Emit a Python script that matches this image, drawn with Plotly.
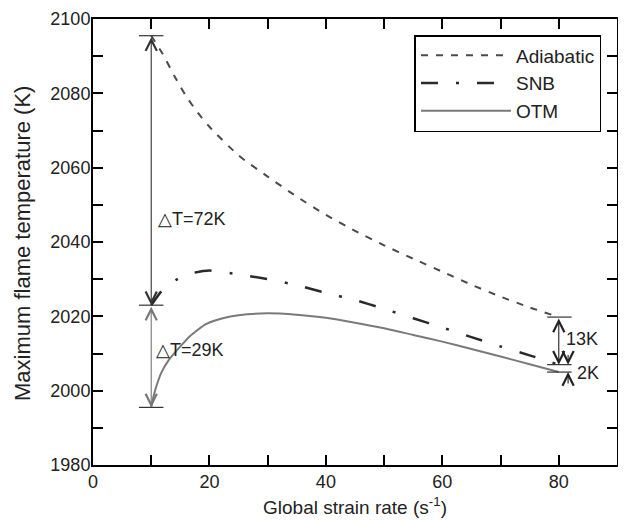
import plotly.graph_objects as go

# ---------------- data ----------------
adiabatic_x = [10, 12, 14, 16, 18, 20, 25, 30, 35, 40, 45, 50, 55, 60, 65, 70, 75, 80]
adiabatic_y = [2095.5, 2090.5, 2084.6, 2079.2, 2074.8, 2071.0, 2063.3, 2057.6, 2052.2,
               2047.3, 2043.0, 2039.1, 2035.5, 2032.0, 2028.5, 2025.3, 2022.4, 2019.8]

snb_x = [10, 12, 14.5, 17, 20, 25, 30, 35, 40, 45, 50, 55, 60, 65, 70, 75, 80]
snb_y = [2023.0, 2027.2, 2030.0, 2031.6, 2032.3, 2031.3, 2030.0, 2028.4, 2026.3,
         2024.4, 2022.0, 2019.5, 2017.0, 2014.4, 2011.9, 2009.5, 2007.0]

otm_x = [10, 10.4, 10.85, 11.7, 13, 15, 16.6, 19.4, 22.3, 25, 30, 35, 40, 45, 50,
         55, 60, 65, 70, 75, 80]
otm_y = [1995.5, 1998.5, 2001.0, 2004.7, 2008.2, 2011.9, 2014.6, 2017.9, 2019.5,
         2020.3, 2020.8, 2020.4, 2019.6, 2018.3, 2016.8, 2015.0, 2013.2, 2011.2,
         2009.2, 2007.1, 2005.0]

series_names = ["Adiabatic", "SNB", "OTM"]
delta_labels = ["\u25b3T=72K", "\u25b3T=29K", "13K", "2K"]
x_title = "Global strain rate (s<sup>-1</sup>)"
y_title = "Maximum flame temperature (K)"

x_ticks = [0, 20, 40, 60, 80]
y_ticks = [1980, 2000, 2020, 2040, 2060, 2080, 2100]

FONT = "Liberation Sans, Arial, sans-serif"

fig = go.Figure()
fig.add_trace(go.Scatter(x=adiabatic_x, y=adiabatic_y, mode="lines", name=series_names[0],
                         line=dict(color="#4a4a4a", width=2, dash="7px,8px", shape="spline", smoothing=0.6)))
fig.add_trace(go.Scatter(x=snb_x, y=snb_y, mode="lines", name=series_names[1],
                         line=dict(color="#2a2a2a", width=2.5, dash="17px,18px,3px,18px", shape="spline", smoothing=0.6)))
fig.add_trace(go.Scatter(x=otm_x, y=otm_y, mode="lines", name=series_names[2],
                         line=dict(color="#7a7a7a", width=2, shape="spline", smoothing=0.6)))

# ---------- bracket annotations (derived from series ends) ----------
xl = adiabatic_x[0]
xr = adiabatic_x[-1]
top_l, mid_l, bot_l = adiabatic_y[0], snb_y[0], otm_y[0]
top_r, mid_r, bot_r = adiabatic_y[-1], snb_y[-1], otm_y[-1]

def hbar(x, y, half=2.1, color="#333"):
    fig.add_shape(type="line", x0=x - half, x1=x + half, y0=y, y1=y, xref="x", yref="y",
                  line=dict(color=color, width=1.2))

for yv in (top_l, mid_l, bot_l):
    hbar(xl, yv)
for yv in (top_r, mid_r, bot_r):
    hbar(xr + 0.1, yv)

def arrow(x, y_head, y_tail, both=True, color="#333"):
    fig.add_annotation(x=x, y=y_head, ax=x, ay=y_tail, xref="x", yref="y", axref="x", ayref="y",
                       text="", showarrow=True, arrowhead=5, startarrowhead=5,
                       arrowside="end+start" if both else "end",
                       arrowsize=2.0, startarrowsize=2.0, arrowwidth=1.1, arrowcolor=color)

arrow(xl, mid_l, top_l, color="#333")
arrow(xl, bot_l, mid_l, color="#777")
arrow(xr, mid_r, top_r, color="#222")
arrow(xr + 1.6, mid_r, mid_r + 3.0, both=False, color="#222")
arrow(xr + 1.6, bot_r, bot_r - 3.5, both=False, color="#222")

def label(x, y, txt):
    fig.add_annotation(x=x, y=y, xref="x", yref="y", text=txt, showarrow=False,
                       xanchor="left", yanchor="middle",
                       font=dict(family=FONT, size=18, color="#222"))

label(xl + 0.9, 2046.3, delta_labels[0])
label(xl + 0.4, 2011.0, delta_labels[1])
label(xr + 0.9, 2014.0, delta_labels[2])
label(xr + 2.8, 2004.8, delta_labels[3])

# axis titles as paper annotations (exact placement)
fig.add_annotation(x=0.5, y=0, xref="paper", yref="paper", text=x_title, showarrow=False,
                   xanchor="center", yanchor="middle", yshift=-41,
                   font=dict(family=FONT, size=19, color="#222"))
fig.add_annotation(x=0, y=0.5, xref="paper", yref="paper", text=y_title, showarrow=False,
                   textangle=-90, xanchor="center", yanchor="middle", xshift=-71, yshift=-2,
                   font=dict(family=FONT, size=22, color="#222"))

axis_common = dict(showline=True, linecolor="black", linewidth=2, mirror="allticks",
                   ticks="inside", ticklen=10, tickwidth=1.5, tickcolor="black",
                   showgrid=False, zeroline=False, automargin=False,
                   tickfont=dict(family=FONT, size=18, color="#222"))

fig.update_xaxes(range=[0, 90], tickvals=x_ticks, ticklabelstandoff=-1,
                 minor=dict(dtick=10, tick0=0, ticks="inside", ticklen=10, tickwidth=1.5, tickcolor="black"),
                 **axis_common)
fig.update_yaxes(range=[1980, 2100], tickvals=y_ticks, ticklabelstandoff=-3,
                 minor=dict(dtick=10, tick0=1980, ticks="inside", ticklen=10, tickwidth=1.5, tickcolor="black"),
                 **axis_common)

# the page body has an 8px margin, so the figure is 8px smaller with 8px less left/top margin
fig.update_layout(
    width=618, height=515,
    margin=dict(l=85, r=9, t=11, b=58, autoexpand=False),
    plot_bgcolor="white", paper_bgcolor="white",
    font=dict(family=FONT, color="#222"),
    legend=dict(x=0.6135, y=0.9641, xanchor="left", yanchor="top",
                bordercolor="black", borderwidth=1.5, bgcolor="white",
                font=dict(family=FONT, size=19, color="#222"),
                itemwidth=90, tracegroupgap=0),
    showlegend=True,
)

fig.write_html("out.html")
